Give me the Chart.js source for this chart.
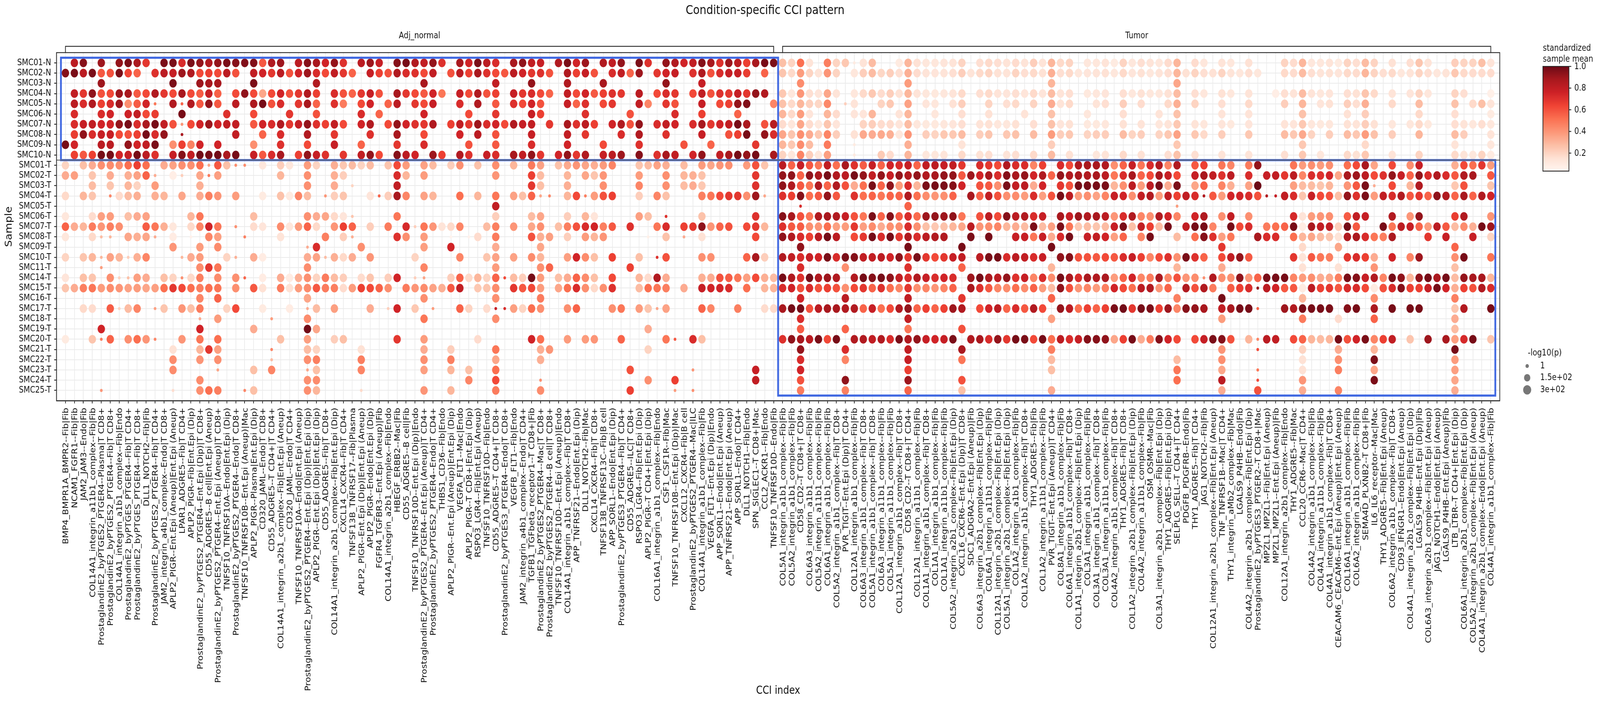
<!DOCTYPE html>
<html lang="en">
<head>
<meta charset="UTF-8">
<title>Condition-specific CCI pattern</title>
<style>
body { margin: 0; background: #fff; overflow: hidden; }
canvas { display: block; }
</style>
<script src="https://cdn.jsdelivr.net/npm/chart.js"></script>
</head>
<body>
<canvas id="chart" width="4789" height="1797" style="width:100vw;height:100vh"></canvas>
<script>
const samples = ['SMC01-N','SMC02-N','SMC03-N','SMC04-N','SMC05-N','SMC06-N','SMC07-N','SMC08-N','SMC09-N','SMC10-N',
  'SMC01-T','SMC02-T','SMC03-T','SMC04-T','SMC05-T','SMC06-T','SMC07-T','SMC08-T','SMC09-T','SMC10-T','SMC11-T',
  'SMC14-T','SMC15-T','SMC16-T','SMC17-T','SMC18-T','SMC19-T','SMC20-T','SMC21-T','SMC22-T','SMC23-T','SMC24-T','SMC25-T'];

const cciLabels = [
'BMP4_BMPR1A_BMPR2--Fib|Fib','NCAM1_FGFR1--Fib|Fib','JAM2_JAM3--Endo|Fib','COL14A1_integrin_a11b1_complex--Fib|Fib',
'ProstaglandinE2_byPTGES2_PTGER4--Plasma|T CD8+','ProstaglandinE2_byPTGES2_PTGER4--Fib|T CD8+','COL14A1_integrin_a1b1_complex--Fib|Endo',
'ProstaglandinE2_byPTGES_PTGER4--Fib|T CD4+','ProstaglandinE2_byPTGES_PTGER4--Fib|T CD8+','DLL1_NOTCH2--Fib|Fib',
'ProstaglandinE2_byPTGES2_PTGER4--Fib|T CD4+','JAM2_integrin_a4b1_complex--Endo|T CD8+','APLP2_PIGR--Ent.Epi (Aneup)|Ent.Epi (Aneup)',
'LPAR1_ADGRE5--Fib|T CD4+','APLP2_PIGR--Fib|Ent.Epi (Dip)','ProstaglandinE2_byPTGES2_PTGER4--Ent.Epi (Dip)|T CD8+',
'CD55_ADGRE5--B cell|Ent.Epi (Aneup)','ProstaglandinE2_byPTGES2_PTGER4--Ent.Epi (Aneup)|T CD8+','TNFSF10_TNFRSF10A--Endo|Ent.Epi (Dip)',
'ProstaglandinE2_byPTGES2_PTGER4--Endo|T CD8+','TNFSF10_TNFRSF10B--Ent.Epi (Aneup)|Mac','APLP2_PIGR--Plasma|Ent.Epi (Dip)',
'CD320_JAML--Endo|T CD8+','CD55_ADGRE5--T CD4+|T CD4+','COL14A1_integrin_a2b1_complex--Fib|Ent.Epi (Aneup)','CD320_JAML--Endo|T CD4+',
'TNFSF10_TNFRSF10A--Endo|Ent.Epi (Aneup)','ProstaglandinE2_byPTGES2_PTGER4--Ent.Epi (Dip)|Ent.Epi (Dip)','APLP2_PIGR--Ent.Epi (Dip)|Ent.Epi (Dip)',
'CD55_ADGRE5--Fib|T CD8+','COL14A1_integrin_a2b1_complex--Fib|Ent.Epi (Dip)','CXCL14_CXCR4--Fib|T CD4+','TNFSF13B_TNFRSF17--Fib|Plasma',
'APLP2_PIGR--Ent.Epi (Dip)|Ent.Epi (Aneup)','APLP2_PIGR--Endo|Ent.Epi (Dip)','FGFR4_TGFBR3--Ent.Epi (Aneup)|Fib',
'COL14A1_integrin_a2b1_complex--Fib|Endo','HBEGF_ERBB2--Mac|Fib','CD55_ADGRE5--B cell|Fib','TNFSF10_TNFRSF10D--Ent.Epi (Dip)|Endo',
'ProstaglandinE2_byPTGES2_PTGER4--Ent.Epi (Aneup)|T CD4+','ProstaglandinE2_byPTGES2_PTGER4--Endo|T CD4+','THBS1_CD36--Fib|Endo',
'APLP2_PIGR--Ent.Epi (Aneup)|Ent.Epi (Dip)','VEGFA_FLT1--Mac|Endo','APLP2_PIGR--T CD8+|Ent.Epi (Dip)','RSPO3_LGR4--Fib|Ent.Epi (Aneup)',
'TNFSF10_TNFRSF10D--Fib|Endo','CD55_ADGRE5--T CD4+|T CD8+','ProstaglandinE2_byPTGES3_PTGER4--Endo|T CD8+','VEGFB_FLT1--Fib|Endo',
'JAM2_integrin_a4b1_complex--Endo|T CD4+','TGFB1_TGFbeta_receptor1--T CD8+|Fib','ProstaglandinE2_byPTGES2_PTGER4--Mac|T CD8+',
'ProstaglandinE2_byPTGES2_PTGER4--B cell|T CD8+','TNFSF10_TNFRSF10D--Ent.Epi (Aneup)|Endo','COL14A1_integrin_a1b1_complex--Fib|T CD8+',
'APP_TNFRSF21--Endo|Ent.Epi (Dip)','DLL1_NOTCH2--Fib|Mac','CXCL14_CXCR4--Fib|T CD8+','TNFSF13B_TNFRSF13C--Fib|B cell','APP_SORL1--Endo|Ent.Epi (Dip)',
'ProstaglandinE2_byPTGES3_PTGER4--Fib|T CD4+','CD55_ADGRE5--ILC|T CD8+','RSPO3_LGR4--Fib|Ent.Epi (Dip)','APLP2_PIGR--T CD4+|Ent.Epi (Dip)',
'COL16A1_integrin_a1b1_complex--Fib|Endo','CSF1_CSF1R--Fib|Mac','TNFSF10_TNFRSF10B--Ent.Epi (Dip)|Mac','CXCL12_CXCR4--Fib|B cell',
'ProstaglandinE2_byPTGES2_PTGER4--Mac|ILC','COL14A1_integrin_a1b1_complex--Fib|Fib','VEGFA_FLT1--Ent.Epi (Dip)|Endo','APP_SORL1--Endo|Ent.Epi (Aneup)',
'APP_TNFRSF21--Endo|Ent.Epi (Aneup)','APP_SORL1--Endo|T CD4+','DLL1_NOTCH1--Fib|Endo','SPN_SIGLEC1--T CD8+|Mac','CCL2_ACKR1--Fib|Endo','TNFSF10_TNFRSF10D--Endo|Fib',
'COL5A1_integrin_a1b1_complex--Fib|Fib','COL5A2_integrin_a1b1_complex--Fib|Fib','CD58_CD2--T CD8+|T CD8+','COL6A3_integrin_a1b1_complex--Fib|Fib',
'COL5A2_integrin_a11b1_complex--Fib|Fib','COL6A1_integrin_a1b1_complex--Fib|Fib','COL5A2_integrin_a1b1_complex--Fib|T CD8+','PVR_TIGIT--Ent.Epi (Dip)|T CD4+',
'COL12A1_integrin_a1b1_complex--Fib|Fib','COL6A3_integrin_a1b1_complex--Fib|T CD8+','COL5A1_integrin_a1b1_complex--Fib|T CD8+','COL6A3_integrin_a11b1_complex--Fib|Fib',
'COL5A1_integrin_a11b1_complex--Fib|Fib','COL12A1_integrin_a1b1_complex--Fib|T CD8+','CD58_CD2--T CD8+|T CD4+','COL12A1_integrin_a11b1_complex--Fib|Fib',
'COL1A1_integrin_a1b1_complex--Fib|T CD8+','COL1A1_integrin_a1b1_complex--Fib|Fib','COL1A1_integrin_a11b1_complex--Fib|Fib','COL5A2_integrin_a2b1_complex--Fib|Ent.Epi (Dip)',
'CXCL16_CXCR6--Ent.Epi (Dip)|T CD8+','SDC1_ADGRA2--Ent.Epi (Aneup)|Fib','COL6A3_integrin_a2b1_complex--Fib|Ent.Epi (Dip)','COL6A1_integrin_a11b1_complex--Fib|Fib',
'COL12A1_integrin_a2b1_complex--Fib|Ent.Epi (Dip)','COL5A1_integrin_a2b1_complex--Fib|Ent.Epi (Dip)','COL1A2_integrin_a1b1_complex--Fib|Fib','COL1A2_integrin_a1b1_complex--Fib|T CD8+',
'THY1_ADGRE5--Fib|Fib','COL1A2_integrin_a11b1_complex--Fib|Fib','PVR_TIGIT--Ent.Epi (Aneup)|T CD4+','COL8A1_integrin_a1b1_complex--Fib|Fib','COL6A1_integrin_a1b1_complex--Fib|T CD8+',
'COL1A1_integrin_a2b1_complex--Fib|Ent.Epi (Dip)','COL3A1_integrin_a1b1_complex--Fib|Fib','COL3A1_integrin_a1b1_complex--Fib|T CD8+','COL3A1_integrin_a11b1_complex--Fib|Fib',
'COL4A2_integrin_a1b1_complex--Fib|T CD8+','THY1_ADGRE5--Fib|T CD8+','COL1A2_integrin_a2b1_complex--Fib|Ent.Epi (Dip)','COL4A2_integrin_a11b1_complex--Fib|Fib','OSM_OSMR--Mac|Fib',
'COL3A1_integrin_a2b1_complex--Fib|Ent.Epi (Dip)','THY1_ADGRE5--Fib|Ent.Epi (Dip)','SELPLG_SELL--T CD4+|T CD4+','PDGFB_PDGFRB--Endo|Fib','THY1_ADGRE5--Fib|T CD4+',
'JAG1_NOTCH2--Fib|Fib','COL12A1_integrin_a2b1_complex--Fib|Ent.Epi (Aneup)','TNF_TNFRSF1B--Mac|T CD4+','THY1_integrin_aMb2_complex--Fib|Mac','LGALS9_P4HB--Endo|Fib',
'COL4A2_integrin_a2b1_complex--Fib|Ent.Epi (Dip)','ProstaglandinE2_byPTGES3_PTGER2--T CD8+|Mac','MPZL1_MPZL1--Fib|Ent.Epi (Aneup)','MPZL1_MPZL1--Ent.Epi (Aneup)|Fib',
'COL12A1_integrin_a2b1_complex--Fib|Endo','THY1_ADGRE5--Fib|Mac','CCL20_CCR6--Mac|T CD4+','COL4A2_integrin_a1b1_complex--Fib|Fib','COL4A1_integrin_a11b1_complex--Fib|Fib',
'COL4A1_integrin_a1b1_complex--Fib|T CD8+','CEACAM6_CEACAM6--Ent.Epi (Aneup)|Ent.Epi (Aneup)','COL16A1_integrin_a1b1_complex--Fib|Fib','COL6A2_integrin_a1b1_complex--Fib|Fib',
'SEMA4D_PLXNB2--T CD8+|Fib','IL6_IL6_receptor--Mac|Mac','THY1_ADGRE5--Fib|Ent.Epi (Aneup)','COL6A2_integrin_a1b1_complex--Fib|T CD8+','CD93_IFNGR1--Endo|Ent.Epi (Aneup)',
'COL4A1_integrin_a2b1_complex--Fib|Ent.Epi (Dip)','LGALS9_P4HB--Ent.Epi (Dip)|Fib','COL6A3_integrin_a2b1_complex--Fib|Ent.Epi (Aneup)','JAG1_NOTCH1--Endo|Ent.Epi (Aneup)',
'LGALS9_P4HB--Ent.Epi (Aneup)|Fib','LTB_LTBR--T CD4+|Ent.Epi (Dip)','COL6A1_integrin_a2b1_complex--Fib|Ent.Epi (Dip)','COL5A2_integrin_a2b1_complex--Fib|Ent.Epi (Aneup)',
'COL4A1_integrin_a2b1_complex--Endo|Ent.Epi (Aneup)','COL4A1_integrin_a1b1_complex--Fib|Fib'];

// standardized sample mean x100, as flat pairs: CCI column, value
const SMC01_N = [1,82,2,95,4,90,6,92,7,97,8,87,9,68,11,97,12,97,13,72,14,97,15,92,16,85,17,92,18,97,19,95,20,96,21,96,22,58,23,85,24,90,26,82,27,95,28,88,29,75,30,92,31,70,33,82,34,90,35,78,37,95,38,98,39,85,40,80,41,92,42,70,44,88,45,75,46,97,47,82,48,72,50,88,51,93,52,80,53,78,55,85,56,97,57,75,58,90,60,85,61,80,62,92,64,97,65,70,67,92,68,85,69,75,70,80,71,95,72,88,73,70,74,90,75,82,76,65,77,88,78,98,79,97,80,27,81,20,82,52,83,14,85,47,86,20,87,24,88,10,89,14,90,28,93,10,94,30,95,15,96,12,97,12,98,13,99,14,100,20,102,16,103,18,104,16,105,14,106,17,107,14,108,22,109,14,110,30,111,18,112,20,114,12,115,12,116,14,117,10,118,20,119,12,120,16,121,14,122,12,123,17,124,30,126,17,127,12,129,14,130,12,132,15,136,20,137,17,138,30,139,12,140,12,141,14,142,10,143,20,144,16,145,28,146,20,148,15,150,16,151,25,152,14,155,22,156,20,157,20,158,27,159,14];
const SMC02_N = [0,95,1,97,2,82,3,97,4,58,5,60,6,97,7,63,8,55,10,70,11,82,12,78,13,90,14,85,15,62,16,65,17,62,18,82,19,60,21,80,22,75,23,68,24,82,25,60,26,75,27,90,28,72,29,62,30,80,31,68,32,55,34,78,35,65,36,60,37,85,38,72,39,70,40,62,41,80,43,60,44,82,45,65,46,88,47,70,48,62,49,58,50,82,51,75,52,68,53,70,54,60,56,85,57,65,58,78,59,60,61,72,62,80,63,55,64,90,66,68,67,75,68,78,70,70,71,85,72,60,73,72,74,78,75,78,76,66,78,55,80,25,81,18,82,38,83,20,84,14,85,40,86,20,88,12,89,22,90,28,91,19,92,22,93,16,94,32,95,17,96,14,97,13,98,14,99,16,100,22,101,14,102,18,103,20,104,15,105,14,106,20,107,16,108,18,109,15,110,32,111,16,112,18,113,12,114,13,115,14,116,15,117,12,118,18,119,13,120,15,121,12,122,14,123,16,124,30,125,15,126,20,127,16,128,15,129,20,130,14,131,12,132,16,133,12,136,18,137,17,138,28,139,16,140,14,141,15,142,13,143,18,144,17,145,30,146,20,147,16,148,18,149,12,150,14,151,20,152,16,153,12,154,14,155,24,156,18,157,17,158,17,159,17];
const SMC03_N = [4,90,12,97,15,90,16,88,17,88,21,97,28,85,40,88,48,80,52,92,56,85,60,88,67,92,71,78,82,43,94,38,110,30,124,35];
const SMC04_N = [1,80,2,68,3,93,4,60,5,62,6,90,7,88,8,58,9,62,10,85,11,68,12,62,13,88,14,62,15,57,16,78,17,56,19,62,20,93,21,62,22,35,23,62,24,75,25,60,26,68,27,85,28,65,30,72,31,60,32,55,33,68,34,78,35,60,37,88,38,68,39,62,40,58,41,75,42,50,44,78,45,62,46,85,47,60,48,65,50,78,51,68,52,72,53,62,54,55,56,80,57,62,58,75,59,58,60,65,61,70,62,68,64,82,66,62,67,72,68,68,70,62,71,80,72,60,73,70,74,68,75,78,76,68,77,92,78,85,80,24,81,12,82,40,83,16,84,13,85,35,86,14,88,12,89,18,90,24,91,17,92,22,93,15,94,30,95,14,96,12,97,11,98,12,99,14,100,18,102,16,103,18,104,14,105,13,106,16,107,13,108,18,109,13,110,28,111,14,112,16,114,11,115,12,116,13,118,16,119,12,120,15,121,12,122,12,123,15,124,28,126,16,127,12,129,15,130,12,132,14,135,8,136,16,137,14,138,28,139,14,140,12,141,13,143,16,144,15,145,25,146,18,148,14,150,13,151,20,152,12,155,20,156,16,159,7];
const SMC05_N = [1,82,2,72,3,85,4,65,5,72,6,90,7,42,8,57,9,75,10,50,12,85,13,55,14,85,15,58,16,92,17,58,19,82,21,86,22,98,23,60,24,72,26,68,27,88,28,55,30,70,31,48,33,62,34,75,36,55,37,82,39,68,40,62,41,78,44,72,46,85,48,58,50,70,51,62,52,75,53,60,56,78,57,55,58,70,60,62,61,68,64,80,65,45,67,68,68,60,71,78,73,62,74,65,75,92,76,96,79,45,80,26,81,18,82,30,83,21,84,19,85,44,87,22,88,14,91,20,92,24,94,36,96,13,97,12,99,15,100,22,103,20,105,16,106,18,108,20,110,33,111,14,112,18,115,14,116,16,118,22,120,17,123,18,124,32,126,20,129,16,132,18,136,22,138,30,140,13,141,15,143,22,144,16,145,32,148,18,151,28,155,26,157,18,158,27,159,14];
const SMC06_N = [1,72,4,72,5,75,7,76,8,80,9,62,10,66,13,98,18,70,21,62,25,68,28,60,33,72,35,55,40,75,45,62,48,68,52,78,53,65,58,70,63,60,68,72,71,65,75,55,80,30,81,18,82,38,83,13,85,30,86,17,88,13,89,13,90,30,93,14,94,30,97,12,100,16,103,15,107,14,110,26,114,12,118,16,122,14,124,26,129,14,132,14,138,26,143,15,145,22,151,18,155,16,159,10];
const SMC07_N = [1,72,2,78,3,80,4,75,5,75,6,92,7,98,8,72,9,87,10,98,11,80,12,60,13,40,14,62,15,75,16,90,17,75,18,80,19,80,21,58,22,75,23,72,24,85,25,68,26,78,27,92,28,70,29,65,30,80,31,62,33,75,34,85,36,62,37,92,38,75,39,70,40,68,41,85,43,65,44,80,45,68,46,90,47,72,48,75,49,62,50,85,51,78,52,80,54,68,56,88,57,70,58,82,59,65,61,75,62,85,63,60,64,92,66,72,67,80,68,75,70,72,71,88,72,68,73,75,74,80,75,98,76,87,78,60,79,83,80,17,81,12,82,35,83,17,84,11,85,25,86,13,89,20,90,22,91,17,92,17,93,13,94,28,95,12,96,11,97,11,98,12,99,13,100,16,102,14,103,15,104,12,105,12,106,15,108,16,110,26,111,13,112,15,114,11,115,11,116,12,118,15,120,14,122,12,123,14,124,24,126,14,127,12,129,13,130,11,132,13,136,14,137,13,138,24,139,12,140,11,141,12,143,15,144,14,145,22,146,15,148,12,150,12,151,18,152,11,155,16,156,14,157,12,158,16,159,12];
const SMC08_N = [1,66,2,93,3,72,4,78,5,78,6,62,7,60,8,65,9,98,10,72,11,92,13,88,19,80,22,55,24,72,27,85,30,68,34,70,37,88,40,62,44,75,46,82,48,60,52,78,56,80,58,68,62,72,64,85,67,70,71,78,74,60,75,65,76,98,78,92,79,72,80,35,81,25,82,42,83,33,84,24,85,45,86,22,88,15,89,34,90,33,91,34,92,32,93,12,94,40,96,22,97,20,98,24,99,24,100,28,102,22,103,25,105,24,106,26,108,28,110,38,111,22,112,24,114,20,115,22,116,22,118,28,119,20,120,22,122,20,123,24,124,36,126,24,127,18,129,22,132,24,136,28,137,24,138,34,139,20,141,22,143,28,144,24,145,38,146,26,148,22,151,30,155,28,156,22,159,14];
const SMC09_N = [0,98,1,75,4,82,5,82,7,92,8,75,9,80,10,97,12,42,13,65,14,46,15,75,17,75,21,42,24,70,27,62,30,78,33,55,37,68,40,72,45,60,48,58,52,72,56,75,60,62,64,70,69,60,72,55,77,68,80,30,81,24,82,43,83,28,85,48,88,10,94,32,100,14,110,22,124,24,138,24,145,18,155,14,159,12];
const SMC10_N = [1,65,2,58,3,65,4,98,5,98,6,75,7,78,8,98,9,82,10,70,12,78,13,95,14,80,15,99,16,98,17,99,18,87,19,98,21,78,22,58,23,72,24,88,26,65,27,92,28,78,29,70,31,68,33,80,34,92,35,62,37,95,38,82,39,75,41,90,42,65,44,85,45,70,47,78,48,72,50,88,51,80,52,92,53,68,55,75,56,92,57,68,58,85,60,78,61,82,62,90,64,95,66,70,67,88,68,80,70,75,71,92,73,80,74,88,75,98,76,92,77,98,79,88,80,20,81,12,82,45,83,22,84,12,85,37,88,11,91,23,92,17,94,30,96,12,97,12,98,13,100,18,102,15,103,16,105,14,106,16,108,18,110,28,112,15,115,12,116,14,118,18,120,15,123,16,124,26,126,16,129,14,132,14,136,16,138,24,140,12,143,18,144,15,145,24,148,14,151,20,155,18,156,14,157,12,158,20,159,10];
const SMC01_T = [0,20,2,27,3,33,4,42,5,43,6,42,7,52,8,65,9,52,11,33,12,36,13,42,14,42,15,52,16,35,17,58,18,27,19,43,20,43,22,12,24,22,25,12,27,38,28,20,30,32,31,24,32,28,33,20,34,28,36,25,37,62,38,38,40,36,41,28,43,22,44,42,46,26,48,42,50,30,52,48,53,36,55,26,56,34,57,40,58,35,59,32,60,38,61,45,64,25,65,28,66,36,67,32,69,28,71,38,72,35,73,40,74,42,76,38,77,60,78,25,80,82,81,55,82,78,83,58,84,50,85,80,86,52,87,88,88,70,89,57,90,78,91,55,92,75,93,72,94,78,95,55,96,80,97,82,98,78,99,80,100,68,102,72,103,68,104,62,105,85,106,72,107,72,108,45,109,65,111,72,112,62,113,85,114,88,115,88,116,85,117,42,118,55,119,78,120,50,121,72,122,85,123,45,124,85,126,58,127,65,129,50,130,45,132,48,133,92,137,50,138,38,139,42,140,38,141,42,143,52,144,62,145,88,146,35,148,62,150,42,151,78,155,32,156,62,157,52,158,68,159,38];
const SMC02_T = [0,33,1,37,3,25,5,33,7,32,8,36,9,55,10,33,12,8,13,22,15,35,16,48,17,37,24,30,27,42,30,32,31,22,37,72,38,30,40,38,48,40,52,65,53,28,56,30,58,35,59,25,60,40,64,38,67,42,69,30,70,32,71,26,77,68,80,92,81,93,82,55,83,93,84,87,85,98,86,85,87,82,88,98,89,92,90,80,91,92,92,78,93,92,94,85,95,92,96,85,97,88,98,92,99,92,100,58,101,90,102,75,103,88,104,72,105,95,106,88,107,92,108,75,109,85,110,55,111,92,112,85,113,88,114,85,115,88,116,82,117,50,118,72,119,88,120,55,121,62,122,88,123,78,124,62,126,78,127,88,128,80,129,70,130,82,132,72,134,78,135,80,136,68,137,82,138,45,139,72,140,70,141,75,142,35,143,88,144,90,145,82,146,62,147,70,148,92,149,78,150,55,151,92,152,72,153,85,154,72,155,58,156,85,157,88,159,58];
const SMC03_T = [3,28,5,25,7,30,8,20,10,38,15,32,27,42,30,33,32,20,37,80,52,68,53,27,56,32,60,42,64,45,67,42,69,28,70,33,71,24,77,70,80,93,81,85,82,58,83,50,84,85,85,55,86,85,87,60,88,33,89,52,90,97,91,55,92,93,93,38,94,72,95,30,96,97,97,98,98,97,99,95,100,75,102,60,103,58,104,42,105,97,106,80,107,82,108,33,109,75,111,68,112,60,113,98,114,98,115,98,116,97,117,30,118,42,119,82,120,38,121,82,122,98,123,33,124,97,126,35,127,55,129,45,130,32,132,36,133,100,137,37,138,28,139,28,140,25,141,30,143,40,144,58,145,97,146,33,148,62,150,30,151,85,155,24,156,60,159,25];
const SMC04_T = [0,18,2,30,3,25,5,45,6,17,7,28,8,32,10,32,11,30,13,35,15,33,16,47,17,40,19,38,22,10,24,26,25,10,26,45,27,28,29,40,30,22,31,25,34,13,35,55,36,22,37,88,38,45,40,36,41,30,44,52,46,30,48,50,50,36,51,27,52,55,53,35,54,45,56,30,57,62,58,47,59,38,60,60,61,65,64,22,66,45,67,26,71,47,72,50,73,62,74,68,75,68,76,42,77,90,78,35,80,70,81,65,82,95,83,52,84,58,85,92,86,58,88,70,89,52,90,55,91,50,92,55,93,55,94,85,95,52,96,43,97,40,98,42,99,55,101,88,102,55,103,80,104,60,105,42,106,43,107,38,108,72,109,37,110,60,111,98,112,82,113,38,114,42,115,36,116,45,117,78,118,75,119,42,120,80,121,85,122,38,123,80,124,65,125,80,126,72,127,85,128,58,129,38,130,75,131,75,132,72,133,60,134,85,135,78,136,80,137,72,138,25,139,78,140,62,141,60,142,27,143,92,144,70,145,97,146,38,147,80,148,72,149,85,150,58,151,68,152,55,153,93,154,85,155,55,156,88,157,55,158,85,159,75];
const SMC05_T = [48,80,82,72,94,55,124,38];
const SMC06_T = [0,12,3,17,4,37,5,38,7,27,8,33,9,36,14,30,15,50,21,28,27,42,28,33,29,35,30,18,31,13,32,25,37,50,48,22,52,28,53,35,56,22,58,30,59,13,64,37,65,27,67,70,71,26,77,70,80,95,81,88,82,60,83,50,84,85,85,88,86,85,87,78,88,60,89,50,90,97,91,55,92,95,93,58,94,72,95,53,96,90,97,92,98,90,99,93,100,50,102,60,103,82,104,62,105,95,106,82,107,85,108,72,109,78,111,88,112,78,113,90,114,85,115,88,116,82,117,40,118,72,119,85,120,45,121,42,122,85,123,75,124,45,126,75,127,85,129,42,130,80,132,42,137,73,138,14,139,38,140,40,141,42,143,57,144,80,145,78,148,85,150,40,151,92,155,66,156,85,159,40];
const SMC07_T = [0,55,1,33,2,30,3,48,4,40,5,47,6,42,9,57,10,50,11,32,12,12,14,18,15,45,16,75,17,50,19,42,21,17,22,13,24,43,25,12,26,38,27,55,28,18,30,40,31,65,32,55,34,22,36,48,38,73,39,22,40,50,41,40,42,14,43,18,44,45,47,28,48,47,50,40,52,35,53,42,55,27,56,47,57,60,58,72,59,75,60,47,61,58,63,70,66,50,67,72,69,65,70,68,71,93,72,40,73,55,74,60,76,62,77,68,78,30,80,70,81,58,82,57,83,42,84,40,85,52,86,37,87,38,88,68,89,37,90,43,91,33,92,42,93,43,94,72,95,42,96,27,97,24,98,26,99,30,100,35,101,82,102,40,103,43,104,45,105,30,106,33,107,28,108,97,109,28,110,37,111,97,112,50,113,24,114,28,115,25,116,28,117,78,118,97,119,27,120,80,121,65,122,28,123,98,125,80,126,98,127,98,128,45,130,98,131,62,132,72,134,48,135,52,136,55,137,98,138,9,139,88,140,80,141,80,142,22,143,98,144,58,147,98,148,50,149,82,150,78,151,55,152,38,153,82,154,58,155,28,156,43,157,32,158,98,159,90];
const SMC08_T = [0,12,3,18,4,28,5,30,7,35,8,32,9,35,10,33,12,9,14,6,16,45,17,37,20,47,24,14,29,47,31,22,32,32,37,70,38,42,40,38,43,5,45,6,46,17,48,48,52,60,53,32,54,37,56,22,58,38,59,30,60,40,65,7,67,26,69,33,71,15,77,62,80,93,81,85,82,72,83,65,84,82,85,98,86,82,88,62,89,68,90,98,91,72,92,98,93,68,94,85,95,72,96,82,97,85,98,85,101,97,103,98,106,78,107,78,108,50,109,78,110,33,111,73,112,98,114,78,115,80,116,75,117,37,118,55,120,45,121,98,124,28,126,52,127,95,128,70,129,37,130,50,133,88,134,72,135,72,137,52,138,30,139,35,140,28,141,25,142,14,143,85,144,87,145,72,146,50,147,47,148,87,152,68,154,78,157,78,159,20];
const SMC09_T = [12,40,15,38,17,43,27,33,28,72,33,42,40,37,43,75,48,33,53,35,82,93,94,98,100,98,110,98,129,68,138,18,142,35,155,55];
const SMC10_T = [0,20,2,25,3,30,4,30,5,36,6,30,7,22,8,32,9,45,13,30,14,33,15,38,18,20,19,32,21,33,22,9,27,33,28,36,29,28,30,32,31,18,32,33,34,40,39,20,44,45,47,25,48,36,50,36,52,43,53,30,56,37,57,75,58,43,59,27,61,65,64,27,66,70,67,60,71,42,72,42,76,55,77,88,78,22,80,85,81,80,82,72,83,78,84,75,85,97,86,72,87,97,88,95,89,80,90,80,91,82,92,75,93,93,94,68,95,97,96,68,97,62,98,68,99,78,100,80,102,82,103,97,104,98,105,72,106,82,107,80,108,72,109,78,111,93,112,95,113,60,114,60,115,58,116,62,117,58,118,72,119,78,120,65,121,45,122,62,123,70,124,42,125,97,126,70,127,55,129,62,130,80,131,92,132,58,137,68,138,14,139,58,140,50,141,47,143,68,144,72,145,65,146,33,148,75,150,45,151,90,155,42,156,98,159,50];
const SMC11_T = [4,38,15,43,16,68,17,50,27,43,40,45,48,38,53,42,54,55,63,65,82,72,87,42,94,70,100,55,110,30,124,30,129,33,138,15,142,15,146,40,155,27];
const SMC14_T = [0,13,2,27,3,25,5,42,6,20,7,27,8,37,9,33,11,27,12,20,13,42,14,18,15,47,17,43,19,42,20,55,22,9,24,33,25,9,26,32,27,42,28,20,29,48,30,28,31,22,33,17,34,25,36,22,37,75,39,22,40,35,43,22,44,55,45,18,46,30,47,20,48,55,49,62,50,28,51,22,52,98,53,38,55,27,56,33,57,55,58,43,59,27,61,62,64,30,65,17,66,85,67,33,71,32,72,33,73,60,74,57,75,50,76,37,77,62,78,32,79,28,80,98,81,85,82,70,83,98,84,85,85,90,86,85,88,85,89,98,90,95,91,98,92,93,93,80,94,72,95,85,96,78,97,72,98,75,99,72,101,90,102,98,103,87,104,82,105,92,106,70,107,78,108,45,109,72,110,43,111,98,112,87,113,72,114,87,115,85,116,87,117,38,118,55,119,75,120,45,121,48,122,87,123,45,124,60,125,40,126,43,127,42,128,85,129,42,130,42,131,93,132,40,133,55,134,97,135,98,136,98,137,45,138,38,139,42,140,33,141,35,142,47,143,97,144,95,145,78,146,85,147,45,148,98,149,93,150,30,151,93,152,98,153,87,154,98,155,28,156,92,157,88,158,88,159,30];
const SMC15_T = [0,25,1,33,2,47,3,50,4,38,5,43,6,40,7,36,8,38,9,35,10,37,11,52,12,68,13,62,14,52,15,47,16,52,17,50,19,42,21,58,22,15,24,48,25,15,26,38,27,43,28,58,29,48,30,47,31,17,32,38,33,65,34,62,35,55,36,42,38,48,39,40,40,43,41,36,42,32,43,58,44,80,46,24,47,25,48,43,50,68,51,58,52,62,53,38,55,35,56,52,57,72,58,42,59,18,60,42,61,70,64,28,65,52,66,50,67,47,69,33,71,78,72,75,73,75,74,72,76,52,78,30,79,30,80,72,81,75,82,60,83,72,84,60,85,65,86,60,87,42,88,62,89,68,90,55,91,70,92,52,93,45,94,68,95,42,96,45,97,40,98,45,99,55,101,88,102,70,103,58,104,45,105,43,106,52,107,43,108,55,109,38,110,28,111,93,112,60,113,40,114,45,115,38,116,47,117,75,118,62,119,52,120,82,121,85,122,40,123,55,125,85,126,60,127,85,128,48,130,57,131,65,132,72,133,92,134,82,135,75,136,58,137,58,138,10,139,82,140,65,141,68,142,58,143,72,144,72,145,62,146,10,147,60,148,72,149,95,150,65,151,65,152,78,153,98,154,75,155,32,156,65,157,60,158,85,159,72];
const SMC16_T = [15,45,17,55,27,35,40,42,48,42,53,48,82,75,87,82,94,80,100,68,110,55,124,47,129,98,138,30,146,43,155,47];
const SMC17_T = [2,18,3,17,5,57,6,20,7,28,8,45,10,37,11,25,13,40,14,27,15,48,18,20,19,62,22,10,25,9,27,33,28,28,30,37,34,33,36,22,37,75,39,24,41,38,44,55,45,20,47,17,48,78,49,72,50,37,51,20,52,52,53,42,56,42,57,55,61,42,62,50,64,38,65,25,66,35,67,36,71,55,72,45,75,47,78,17,79,18,80,88,81,98,82,98,83,60,84,82,85,88,86,88,87,85,88,85,89,55,90,78,91,52,92,62,93,85,94,92,95,55,96,65,97,55,98,65,99,90,100,85,102,62,103,75,104,82,105,55,106,72,107,58,108,85,109,62,111,92,112,82,113,52,114,65,115,55,116,65,117,97,118,99,119,68,120,98,121,97,122,65,123,90,124,45,125,95,126,92,127,88,129,80,130,88,131,98,132,98,133,55,136,90,137,85,138,98,139,98,140,98,141,97,143,95,144,98,146,87,148,98,150,98,151,98,155,25,156,85,159,98];
const SMC18_T = [15,33,17,38,23,38,27,43,40,50,48,43,82,72,94,80,110,37,129,38,138,48,142,17,146,55,155,33];
const SMC19_T = [4,75,15,75,21,33,27,99,28,35,65,33,82,57,87,55,94,50,100,60,155,28];
const SMC20_T = [0,10,3,25,4,48,5,55,7,42,8,52,9,40,10,45,13,40,15,50,17,52,24,27,27,37,30,22,31,27,37,68,40,38,46,17,52,75,53,52,56,38,58,38,59,40,62,55,67,50,68,58,70,72,71,27,80,70,81,93,82,88,83,82,84,97,85,62,86,98,88,85,89,85,90,80,91,85,92,72,93,97,94,85,95,92,96,78,97,75,98,78,99,97,101,85,102,88,103,72,104,92,105,68,106,98,107,97,108,62,109,98,110,52,111,82,112,72,113,78,114,95,115,95,116,93,117,35,118,65,119,98,120,33,121,48,122,95,123,75,124,62,126,62,127,78,128,97,129,95,130,60,132,30,133,45,134,82,135,80,137,62,138,55,139,30,140,28,141,30,142,98,143,60,144,75,145,97,146,45,147,65,148,80,150,25,152,90,154,88,155,37,156,73,157,98,159,25];
const SMC21_T = [12,15,15,30,16,68,17,37,23,45,27,28,28,20,33,15,40,33,43,22,48,50,53,32,54,40,65,20,82,92,87,72,94,80,100,87,110,47,129,40,133,62,138,20,142,33,146,30,155,98];
const SMC22_T = [12,43,15,40,17,42,23,28,27,42,28,47,33,47,40,42,43,47,48,35,53,32,82,72,87,45,94,78,100,50,110,28,124,28,129,42,138,15,142,42,146,97,155,38];
const SMC23_T = [12,43,17,35,21,27,23,45,27,35,28,27,33,45,40,37,43,30,45,27,48,52,63,60,70,40,77,78,82,75,94,65,110,27,124,50,129,35,133,50,138,15,142,47,146,35,155,37];
const SMC24_T = [15,43,27,42,28,43,45,45,48,62,53,42,65,42,68,65,77,80,82,60,87,93,94,90,100,60,124,52,129,82,133,62,138,40,146,97,155,35];
const SMC25_T = [4,40,12,17,15,42,16,52,17,47,20,45,21,27,27,42,28,30,33,18,40,40,43,30,48,48,53,43,63,65,68,38,70,42,82,48,87,47,94,55,100,27,110,33,129,33,133,60,138,33,142,45,155,33];

const sampleRows = [SMC01_N,SMC02_N,SMC03_N,SMC04_N,SMC05_N,SMC06_N,SMC07_N,SMC08_N,SMC09_N,SMC10_N,SMC01_T,SMC02_T,SMC03_T,SMC04_T,SMC05_T,SMC06_T,SMC07_T,SMC08_T,SMC09_T,SMC10_T,SMC11_T,SMC14_T,SMC15_T,SMC16_T,SMC17_T,SMC18_T,SMC19_T,SMC20_T,SMC21_T,SMC22_T,SMC23_T,SMC24_T,SMC25_T];

// nearly every dot sits at the same -log10(p); these are the weak ones
const strongLogP = 250;
const weakLogP = 15;
const weakCols = {
  'SMC01-N':[88],'SMC05-N':[10,13,87],'SMC07-N':[13],'SMC08-N':[13],'SMC09-N':[88],'SMC10-N':[88],
  'SMC01-T':[16,19,20],'SMC02-T':[10,13,16],'SMC03-T':[32,146],
  'SMC04-T':[5,29,35,53,54,58,78,127,134,135],'SMC05-T':[82,124],'SMC06-T':[32,67],'SMC07-T':[19,39],
  'SMC08-T':[4,5,10,14,20,32,43,45,65,69],'SMC09-T':[27],'SMC10-T':[4,7,13,19,29,66],'SMC11-T':[4],
  'SMC14-T':[6,7,13,20,39,40,49,127],'SMC15-T':[133],'SMC17-T':[6,10,27,36,41,48,49,66,133],
  'SMC18-T':[15,23],'SMC20-T':[4,10,68,133],'SMC21-T':[23,133],'SMC22-T':[23],'SMC23-T':[17,27,70,133],
  'SMC24-T':[53,133],'SMC25-T':[4,12,20,33,68,70]
};

const colorbarTicks = [0.2, 0.4, 0.6, 0.8, 1.0];
const sizeLegendLabels = ['1', '1.5e+02', '3e+02'];
const sizeLegendRadii = [5, 9.5, 12];

const redsStops = [[255,245,240],[254,224,210],[252,187,161],[252,146,114],[251,106,74],[239,59,44],[203,24,29],[165,15,21],[103,0,13]];
const vmin = 0.034, vmax = 1;
const dotAlpha = 0.96;

function redsColor(v, alpha) {
  const t = Math.min(1, Math.max(0, (v - vmin) / (vmax - vmin))) * 8;
  const i = Math.min(7, Math.floor(t));
  const f = t - i;
  const c = redsStops[i].map((a, k) => Math.round(a + (redsStops[i + 1][k] - a) * f));
  return `rgba(${c[0]},${c[1]},${c[2]},${alpha})`;
}

function logPRadius(p) {
  return Math.sqrt(9 + 0.45 * p);
}

const points = [];
sampleRows.forEach((row, rowIdx) => {
  const weak = weakCols[samples[rowIdx]] || [];
  for (let k = 0; k < row.length; k += 2) {
    const p = weak.includes(row[k]) ? weakLogP : strongLogP;
    points.push({ x: row[k], y: rowIdx, r: logPRadius(p), mean: row[k + 1] / 100 });
  }
});

const inkColor = '#262626';
const textColor = '#111111';
const fontFamily = '"DejaVu Sans"';
const lineW = 2.2;

const decorations = {
  id: 'decorations',
  afterDatasetsDraw(chart) {
    const { ctx, chartArea: a, scales: { x, y } } = chart;
    ctx.save();

    // sample groups
    ctx.strokeStyle = 'royalblue';
    ctx.lineWidth = 5.5;
    ctx.strokeRect(x.getPixelForValue(-0.5), y.getPixelForValue(-0.5), x.getPixelForValue(79.5) - x.getPixelForValue(-0.5), y.getPixelForValue(9.5) - y.getPixelForValue(-0.5));
    ctx.strokeRect(x.getPixelForValue(79.5), y.getPixelForValue(9.5), x.getPixelForValue(159.5) - x.getPixelForValue(79.5), y.getPixelForValue(32.5) - y.getPixelForValue(9.5));

    ctx.strokeStyle = '#666666';
    ctx.lineWidth = 2.2;
    ctx.beginPath();
    ctx.moveTo(a.left, y.getPixelForValue(9.5));
    ctx.lineTo(a.right, y.getPixelForValue(9.5));
    ctx.stroke();

    // frame
    ctx.strokeStyle = inkColor;
    ctx.lineWidth = lineW;
    ctx.strokeRect(a.left, a.top, a.right - a.left, a.bottom - a.top);

    // condition brackets
    const brackets = [['Adj_normal', 0, 79], ['Tumor', 80, 159]];
    ctx.fillStyle = textColor;
    ctx.font = `22.2px ${fontFamily}`;
    ctx.textAlign = 'center';
    ctx.textBaseline = 'middle';
    brackets.forEach(([name, c0, c1]) => {
      const x0 = x.getPixelForValue(c0), x1 = x.getPixelForValue(c1);
      ctx.beginPath();
      ctx.moveTo(x0, a.top);
      ctx.lineTo(x0, a.top - 16);
      ctx.lineTo(x1, a.top - 16);
      ctx.lineTo(x1, a.top);
      ctx.stroke();
      ctx.fillText(name, (x0 + x1) / 2, 92);
    });

    // titles
    ctx.font = `31.9px ${fontFamily}`;
    ctx.fillText('Condition-specific CCI pattern', 2290, 28);
    ctx.font = `27.8px ${fontFamily}`;
    ctx.fillText('CCI index', (a.left + a.right) / 2, 1769);
    ctx.save();
    ctx.translate(28, (a.top + a.bottom) / 2);
    ctx.rotate(-Math.PI / 2);
    ctx.fillText('Sample', 0, 0);
    ctx.restore();

    // colorbar
    const cbL = 4618, cbR = 4696, cbT = 170, cbB = 438;
    for (let py = cbT; py < cbB; py++) {
      const v = vmax - (py - cbT + 0.5) / (cbB - cbT) * (vmax - vmin);
      ctx.fillStyle = redsColor(v, dotAlpha);
      ctx.fillRect(cbL, py, cbR - cbL, 1);
    }
    ctx.strokeStyle = inkColor;
    ctx.lineWidth = lineW;
    ctx.strokeRect(cbL, cbT, cbR - cbL, cbB - cbT);
    ctx.fillStyle = textColor;
    ctx.font = `22.2px ${fontFamily}`;
    ctx.textAlign = 'left';
    colorbarTicks.forEach(t => {
      const py = cbB - (t - vmin) / (vmax - vmin) * (cbB - cbT);
      ctx.beginPath();
      ctx.moveTo(cbR, py);
      ctx.lineTo(cbR + 7, py);
      ctx.stroke();
      ctx.fillText(t.toFixed(1), 4712, py + 1);
    });
    ctx.fillText('standardized', 4618, 124);
    ctx.fillText('sample mean', 4618, 152);

    // size legend
    ctx.fillText('-log10(p)', 4573, 904);
    sizeLegendLabels.forEach((label, i) => {
      const py = [937, 967, 998][i];
      ctx.fillStyle = '#777777';
      ctx.beginPath();
      ctx.arc(4571, py, sizeLegendRadii[i], 0, Math.PI * 2);
      ctx.fill();
      ctx.fillStyle = textColor;
      ctx.fillText(label, 4610, py);
    });
    ctx.restore();
  }
};

new Chart(document.getElementById('chart'), {
  type: 'bubble',
  plugins: [decorations],
  data: {
    datasets: [{
      data: points,
      backgroundColor: c => redsColor(c.raw.mean, dotAlpha),
      borderWidth: 0,
      hoverBorderWidth: 0
    }]
  },
  options: {
    responsive: false,
    devicePixelRatio: 1,
    animation: false,
    events: [],
    layout: { padding: { left: 0, top: 134.7, right: 300, bottom: 0 } },
    plugins: { legend: { display: false }, title: { display: false }, tooltip: { enabled: false } },
    scales: {
      x: {
        type: 'linear',
        min: -1,
        max: 160,
        afterBuildTicks: s => { s.ticks = cciLabels.map((_, i) => ({ value: i })); },
        afterFit: s => { s.height = 771.3; },
        grid: { color: '#ebebeb', lineWidth: 2, tickColor: inkColor, tickLength: 7, tickWidth: 2.2 },
        border: { color: inkColor, width: lineW },
        ticks: {
          autoSkip: false,
          maxRotation: 90,
          minRotation: 90,
          padding: 11,
          labelOffset: 2.4,
          color: textColor,
          font: { family: 'DejaVu Sans', size: 22.8 },
          callback: v => cciLabels[v]
        }
      },
      y: {
        type: 'linear',
        reverse: true,
        min: -1,
        max: 33,
        afterBuildTicks: s => { s.ticks = samples.map((_, i) => ({ value: i })); },
        afterFit: s => { s.width = 169; },
        grid: { color: '#ebebeb', lineWidth: 2, tickColor: inkColor, tickLength: 7, tickWidth: 2.2 },
        border: { color: inkColor, width: lineW },
        ticks: {
          autoSkip: false,
          padding: 9,
          color: textColor,
          font: { family: 'DejaVu Sans', size: 22.2 },
          callback: v => samples[v]
        }
      }
    }
  }
});
</script>
</body>
</html>
